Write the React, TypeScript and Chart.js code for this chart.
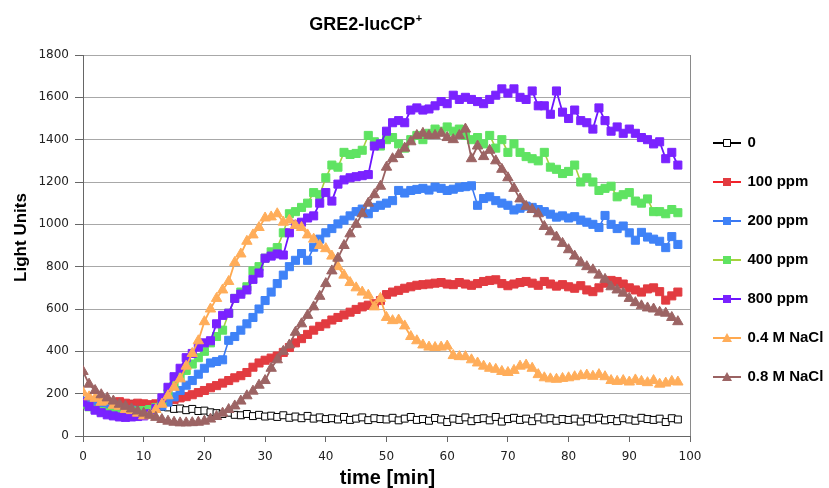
import React, { useEffect, useRef } from 'react';
import { Chart, registerables } from 'chart.js';

Chart.register(...registerables);

// ---- data -------------------------------------------------------------
const times = [
  0, 1, 2, 3, 4, 5, 6, 7, 8, 9, 10, 11, 12, 13, 14, 15, 16, 17, 18, 19,
  20, 21, 22, 23, 24, 25, 26, 27, 28, 29, 30, 31, 32, 33, 34, 35, 36, 37, 38, 39,
  40, 41, 42, 43, 44, 45, 46, 47, 48, 49, 50, 51, 52, 53, 54, 55, 56, 57, 58, 59,
  60, 61, 62, 63, 64, 65, 66, 67, 68, 69, 70, 71, 72, 73, 74, 75, 76, 77, 78, 79,
  80, 81, 82, 83, 84, 85, 86, 87, 88, 89, 90, 91, 92, 93, 94, 95, 96, 97, 98,
];

const seriesNames = ['0', '100 ppm', '200 ppm', '400 ppm', '800 ppm', '0.4 M NaCl', '0.8 M NaCl'];

const ctrl0 = [
  150, 155, 148, 152, 146, 150, 155, 150, 152, 148, 150,
  145, 140, 138, 135, 128, 130, 122, 128, 118, 120,
  112, 108, 104, 110, 100, 98, 104, 94, 100, 92,
  96, 90, 98, 86, 92, 84, 95, 82, 88, 80,
  84, 78, 90, 76, 82, 88, 75, 84, 80, 78,
  86, 74, 82, 90, 76, 80, 72, 85, 78, 66,
  82, 76, 88, 70, 80, 84, 74, 90, 68, 80,
  86, 76, 82, 70, 88, 78, 84, 72, 80, 76,
  82, 68, 84, 78, 86, 74, 80, 70, 84, 78,
  72, 86, 80, 76, 82, 66, 84, 78,
];

const ppm100 = [
  160, 158, 152, 160, 155, 158, 162, 155, 150, 155, 152,
  148, 152, 158, 165, 172, 180, 186, 195, 205, 215,
  228, 238, 250, 262, 275, 285, 300, 325, 345, 358,
  368, 378, 395, 418, 440, 460, 480, 500, 518, 530,
  548, 560, 572, 585, 598, 610, 618, 625, 640, 668,
  680, 688, 698, 705, 712, 715, 718, 722, 725, 718,
  715, 725, 718, 712, 720, 730, 735, 738, 720, 710,
  718, 725, 730, 722, 712, 730, 718, 708, 715, 705,
  698, 710, 690, 682, 700, 722, 735, 730, 718, 700,
  690, 680, 695, 700, 682, 642, 662, 680,
];

const ppm200 = [
  165, 150, 142, 138, 132, 128, 125, 120, 122, 118, 120,
  124, 130, 142, 160, 185, 215, 240, 262, 292, 320,
  345, 352, 360, 452, 470, 500, 530, 560, 600, 640,
  680, 720, 760, 800, 830, 862, 830, 892, 930, 960,
  980, 1002, 1020, 1040, 1060, 1072, 1050, 1080, 1090, 1100,
  1112, 1160, 1148, 1160, 1165, 1170, 1162, 1176, 1170, 1160,
  1166, 1175, 1178, 1182, 1090, 1122, 1130, 1112, 1100, 1090,
  1068, 1076, 1086, 1080, 1070, 1060, 1048, 1034, 1040, 1030,
  1036, 1020, 1010, 1000, 985, 1042, 1000, 980, 992, 960,
  925, 962, 940, 930, 920, 890, 942, 905,
];

const ppm400 = [
  150, 138, 125, 115, 110, 108, 110, 112, 115, 118, 120,
  125, 135, 160, 200, 240, 280, 310, 340, 370, 400,
  440, 470, 500, 580, 650, 680, 705, 780, 800, 840,
  870, 890, 960, 1050, 1060, 1080, 1100, 1150, 1140, 1220,
  1280, 1270, 1340, 1330, 1335, 1350, 1420, 1390, 1370, 1400,
  1410, 1380, 1360, 1400, 1420, 1400, 1430, 1450, 1440, 1460,
  1440, 1450, 1420, 1400, 1410, 1380, 1420, 1360, 1400, 1340,
  1380, 1340, 1320, 1310, 1300, 1340, 1270, 1260, 1240, 1250,
  1280, 1200, 1220, 1200, 1160, 1170, 1180, 1130, 1140, 1150,
  1110, 1100, 1120, 1060, 1060, 1050, 1070, 1055,
];

const ppm800 = [
  160, 140, 122, 110, 100, 95, 90, 88, 90, 92, 95,
  105, 130, 180, 230, 280, 320, 370, 390, 420, 440,
  450, 530, 570, 580, 650, 670, 690, 740, 770, 840,
  850, 860, 855, 960, 1000, 1010, 1030, 1040, 1100, 1150,
  1110, 1190, 1210, 1220, 1225, 1230, 1235, 1370, 1380, 1440,
  1480, 1490, 1480, 1540, 1550, 1540, 1545, 1560, 1580, 1570,
  1610, 1590, 1600, 1590, 1580, 1570, 1590, 1610, 1640, 1620,
  1640, 1600, 1590, 1630, 1560, 1560, 1520, 1630, 1530, 1500,
  1540, 1490, 1480, 1450, 1550, 1490, 1440, 1460, 1430, 1450,
  1430, 1410, 1400, 1380, 1390, 1310, 1340, 1280,
];

const nacl04 = [
  205, 185, 178, 160, 165, 145, 140, 125, 120, 108, 95,
  100, 125, 150, 190, 230, 270, 330, 390, 450, 540,
  600, 650, 690, 730, 820, 860, 920, 950, 985, 1030,
  1035, 1050, 1010, 1020, 995, 985, 950, 930, 900, 885,
  850, 800, 760, 725, 700, 680, 665, 610, 650, 560,
  545, 548, 520, 470, 450, 430, 420, 418, 420, 425,
  380, 375, 375, 360, 345, 330, 320, 315, 305, 300,
  310, 330, 335, 320, 290, 275, 270, 268, 272, 275,
  280, 285, 288, 282, 290, 280, 262, 258, 262, 255,
  265, 258, 252, 262, 245, 250, 258, 255,
];

const nacl08 = [
  305, 245, 215, 195, 180, 165, 150, 140, 128, 118, 108,
  98, 88, 78, 70, 65, 62, 62, 63, 65, 70,
  80, 92, 108, 125, 142, 165, 190, 212, 240, 262,
  320, 360, 400, 430, 490, 530, 570, 610, 660, 720,
  780, 840, 900, 955, 1000, 1050, 1100, 1140, 1180, 1270,
  1310, 1330, 1360, 1390, 1420, 1430, 1420, 1420, 1430, 1410,
  1400, 1420, 1450, 1310, 1370, 1320, 1350, 1300, 1260, 1220,
  1170, 1120, 1085, 1070, 1050, 990, 965, 940, 910, 880,
  850, 820, 800, 785, 760, 740, 705, 690, 675, 650,
  630, 615, 605, 600, 585, 580, 560, 540,
];

const seriesValues = [ctrl0, ppm100, ppm200, ppm400, ppm800, nacl04, nacl08];

const yTickStep = 200;
const yMax = 1800;
const xTickStep = 10;
const xMax = 100;

const titleText = 'GRE2-lucCP';
const titleSup = '+';
const yTitle = 'Light Units';
const xTitle = 'time [min]';

// ---- styles -----------------------------------------------------------
const FONT = "'Liberation Sans', Arial, Helvetica, sans-serif";
const TICK_FONT = "'DejaVu Sans', Verdana, sans-serif";

type Style = {
  line: string;
  fill: string;
  border: string;
  shape: 'rect' | 'triangle';
  radius: number;
  lineWidth: number;
  borderWidth: number;
};

const styles: Style[] = [
  { line: '#000000', fill: '#ffffff', border: '#000000', shape: 'rect', radius: 4.9, lineWidth: 1, borderWidth: 1 },
  { line: '#f2222a', fill: '#e23b40', border: '#e23b40', shape: 'rect', radius: 5.7, lineWidth: 1.6, borderWidth: 1 },
  { line: '#3a78f2', fill: '#3f82f7', border: '#3f82f7', shape: 'rect', radius: 5.7, lineWidth: 1.6, borderWidth: 1 },
  { line: '#a6d23c', fill: '#5fe362', border: '#5fe362', shape: 'rect', radius: 5.7, lineWidth: 1.6, borderWidth: 1 },
  { line: '#6c14ff', fill: '#7a22ff', border: '#7a22ff', shape: 'rect', radius: 5.7, lineWidth: 1.8, borderWidth: 1 },
  { line: '#ffa94f', fill: '#ffad5a', border: '#ffad5a', shape: 'triangle', radius: 6, lineWidth: 1.8, borderWidth: 1 },
  { line: '#9a6262', fill: '#9c6464', border: '#9c6464', shape: 'triangle', radius: 6, lineWidth: 1.8, borderWidth: 1 },
];

function makeIcon(s: Style): HTMLCanvasElement {
  const c = document.createElement('canvas');
  c.width = 28;
  c.height = 14;
  const g = c.getContext('2d') as CanvasRenderingContext2D;
  g.strokeStyle = s.line;
  g.lineWidth = 2;
  g.beginPath();
  g.moveTo(0, 7);
  g.lineTo(28, 7);
  g.stroke();
  g.fillStyle = s.fill;
  g.strokeStyle = s.border;
  g.lineWidth = 1;
  if (s.shape === 'rect') {
    if (s.fill === '#ffffff') {
      g.beginPath();
      g.rect(10.5, 3.5, 7, 7);
      g.fill();
      g.stroke();
    } else {
      g.fillRect(10, 3, 8, 8);
    }
  } else {
    g.beginPath();
    g.moveTo(14, 2);
    g.lineTo(19, 11);
    g.lineTo(9, 11);
    g.closePath();
    g.fill();
  }
  return c;
}

const textPlugin = {
  id: 'chartTexts',
  afterDraw(chart: any) {
    const ctx: CanvasRenderingContext2D = chart.ctx;
    ctx.save();
    ctx.fillStyle = '#000';
    ctx.textBaseline = 'alphabetic';
    // main title with superscript
    ctx.font = `bold 18px ${FONT}`;
    const mw = ctx.measureText(titleText).width;
    ctx.font = `bold 11px ${FONT}`;
    const sw = ctx.measureText(titleSup).width;
    const tx = 365.5 - (mw + sw) / 2;
    ctx.textAlign = 'left';
    ctx.font = `bold 18px ${FONT}`;
    ctx.fillText(titleText, tx, 30);
    ctx.font = `bold 11px ${FONT}`;
    ctx.fillText(titleSup, tx + mw + 0.5, 22);
    // y-axis title
    ctx.save();
    ctx.translate(25.5, 237.5);
    ctx.rotate(-Math.PI / 2);
    ctx.textAlign = 'center';
    ctx.font = `bold 17px ${FONT}`;
    ctx.fillText(yTitle, 0, 0);
    ctx.restore();
    // x-axis title
    ctx.textAlign = 'center';
    ctx.font = `bold 20px ${FONT}`;
    ctx.fillText(xTitle, 387.5, 484);
    ctx.restore();
  },
};

export default function App() {
  const canvasRef = useRef<HTMLCanvasElement | null>(null);

  useEffect(() => {
    const canvas = canvasRef.current;
    if (!canvas) return;
    const icons = styles.map(makeIcon);

    const datasets = seriesNames.map((name, i) => {
      const s = styles[i];
      const vals = seriesValues[i];
      return {
        label: name,
        data: times.map((t, k) => ({ x: t, y: vals[k] })),
        borderColor: s.line,
        borderWidth: s.lineWidth,
        backgroundColor: s.fill,
        pointStyle: s.shape,
        pointRadius: s.radius,
        pointHoverRadius: s.radius,
        pointBackgroundColor: s.fill,
        pointBorderColor: s.border,
        pointBorderWidth: s.borderWidth,
        fill: false,
        tension: 0,
        order: seriesNames.length - i,
      };
    });

    const chart = new Chart(canvas, {
      type: 'line',
      data: { datasets },
      plugins: [textPlugin],
      options: {
        responsive: false,
        animation: false,
        devicePixelRatio: 1,
        layout: { padding: { top: 55, right: 0, bottom: 23, left: 0 } },
        plugins: {
          title: { display: false },
          tooltip: { enabled: false },
          legend: {
            display: true,
            position: 'right',
            align: 'center',
            maxWidth: 139,
            labels: {
              usePointStyle: true,
              pointStyleWidth: 26,
              padding: 24,
              color: '#000',
              font: { family: FONT, size: 15, weight: 'bold' },
              generateLabels: (ch: any) =>
                ch.data.datasets.map((ds: any, i: number) => ({
                  text: ds.label,
                  datasetIndex: i,
                  pointStyle: icons[i],
                  fillStyle: 'rgba(0,0,0,0)',
                  strokeStyle: 'rgba(0,0,0,0)',
                  lineWidth: 0,
                  hidden: !ch.isDatasetVisible(i),
                  fontColor: '#000',
                })),
            },
          },
        },
        scales: {
          x: {
            type: 'linear',
            min: 0,
            max: xMax,
            ticks: {
              stepSize: xTickStep,
              autoSkip: false,
              maxRotation: 0,
              padding: 8,
              color: '#222',
              font: { family: TICK_FONT, size: 12 },
              callback: (v: any) => String(v),
            },
            grid: {
              color: (c: any) => (c.tick && c.tick.value === xMax ? '#8a8a8a' : 'rgba(0,0,0,0)'),
              tickColor: '#666',
              tickLength: 6,
              lineWidth: 1,
            },
            border: { color: '#666', width: 1 },
            afterFit: (s: any) => {
              s.height = 29;
            },
          },
          y: {
            type: 'linear',
            min: 0,
            max: yMax,
            ticks: {
              stepSize: yTickStep,
              padding: 6,
              color: '#222',
              font: { family: TICK_FONT, size: 12 },
              callback: (v: any) => String(v),
            },
            grid: {
              color: '#a8a8a8',
              tickColor: '#666',
              tickLength: 8,
              lineWidth: 1,
            },
            border: { color: '#666', width: 1 },
            afterFit: (s: any) => {
              s.width = 83;
            },
          },
        },
      } as any,
    });

    return () => {
      chart.destroy();
    };
  }, []);

  return (
    <div style={{ position: 'absolute', left: 0, top: 0, width: 829, height: 488, background: '#fff' }}>
      <canvas ref={canvasRef} width={829} height={488} style={{ display: 'block' }} />
    </div>
  );
}
